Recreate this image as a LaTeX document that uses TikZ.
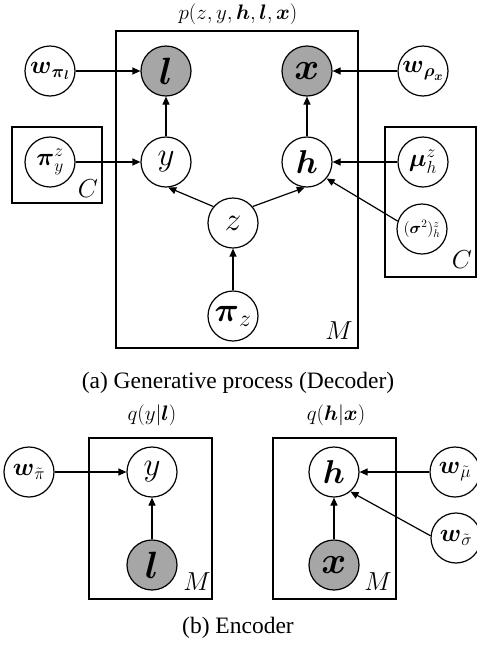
\RequirePackage{fix-cm}
\documentclass[tikz,border=0pt]{standalone}
\usepackage{amsmath}
\usepackage{fontspec}
\setmainfont{Liberation Serif}
\usetikzlibrary{arrows.meta}
\definecolor{obsgray}{RGB}{166,166,166}
\begin{document}
\begin{tikzpicture}[x=1pt,y=-1pt,
  var/.style={circle,draw,line width=1.2pt,minimum size=50pt,inner sep=0pt},
  obs/.style={var,fill=obsgray},
  plate/.style={draw,line width=1.2pt},
  conn/.style={line width=1.2pt,-{Triangle[length=8pt,width=7pt]}},
  bigtext/.style={font=\fontsize{38}{38}\selectfont},
  midtext/.style={font=\fontsize{33}{33}\selectfont},
  smalltext/.style={font=\fontsize{25}{25}\selectfont},
  labtext/.style={font=\fontsize{26}{26}\selectfont},
  captext/.style={font=\fontsize{23.5}{23.5}\selectfont},
  ttltext/.style={font=\fontsize{21}{21}\selectfont}]
\useasboundingbox (0,0) rectangle (477,654);
% ---------- decoder ----------
\node[ttltext] (ptitle) at (238,14) {$p(z,y,\boldsymbol{h},\boldsymbol{l},\boldsymbol{x})$};
\draw[plate] (116,31) rectangle (358,348);
\draw[plate] (12,127) rectangle (102,203);
\draw[plate] (385,127) rectangle (476,277);
\node[labtext] (M1) at (339,331) {$M$};
\node[labtext] (C1) at (88,189) {$C$};
\node[labtext] (C2) at (462,260) {$C$};

\node[obs,bigtext] (l) at (166,71) {$\boldsymbol{l}$};
\node[obs,bigtext] (x) at (307,71) {$\boldsymbol{x}$};
\node[var,smalltext] (wpl) at (50,71) {$\boldsymbol{w}_{\boldsymbol{\pi}_{\boldsymbol{l}}}$};
\node[var,smalltext] (wrx) at (423,71) {$\boldsymbol{w}_{\boldsymbol{\rho}_{\boldsymbol{x}}}$};
\node[var,midtext] (y) at (166,162) {$y$};
\node[var,midtext] (h) at (307,162) {$\boldsymbol{h}$};
\node[var,smalltext] (piy) at (50,162) {$\boldsymbol{\pi}_{y}^{z}$};
\node[var,smalltext] (mu) at (423,162) {$\boldsymbol{\mu}_{h}^{z}$};
\node[var,font=\fontsize{16}{16}\selectfont] (sig) at (422,229) {$(\boldsymbol{\sigma}^{2})_{h}^{z}$};
\node[var,font=\fontsize{33}{33}\selectfont] (z) at (233,223) {$z$};
\node[var,font=\fontsize{34}{34}\selectfont] (piz) at (233,316) {$\boldsymbol{\pi}_{z}$};

\draw[conn] (wpl) -- (l);
\draw[conn] (wrx) -- (x);
\draw[conn] (y) -- (l);
\draw[conn] (h) -- (x);
\draw[conn] (piy) -- (y);
\draw[conn] (mu) -- (h);
\draw[conn] (sig.162) -- (h.-40);
\draw[conn] (z.140) -- (y.-85);
\draw[conn] (z.40) -- (h.-95);
\draw[conn] (piz) -- (z);

\node[captext] (capa) at (238,383) {(a) Generative process (Decoder)};

% ---------- encoder ----------
\node[ttltext] (qtitle1) at (152,415) {$q(y|\boldsymbol{l})$};
\node[ttltext] (qtitle2) at (336,415) {$q(\boldsymbol{h}|\boldsymbol{x})$};
\draw[plate] (89,438) rectangle (212,599);
\draw[plate] (273,438) rectangle (396,599);
\node[labtext] (M2) at (197,582) {$M$};
\node[labtext] (M3) at (378,582) {$M$};

\node[var,midtext] (ey) at (152,472) {$y$};
\node[obs,bigtext] (el) at (152,565) {$\boldsymbol{l}$};
\node[var,smalltext] (wpt) at (29,472) {$\boldsymbol{w}_{\tilde{\pi}}$};
\node[var,midtext] (eh) at (334,472) {$\boldsymbol{h}$};
\node[obs,bigtext] (ex) at (334,565) {$\boldsymbol{x}$};
\node[var,smalltext] (wmu) at (455,472) {$\boldsymbol{w}_{\tilde{\mu}}$};
\node[var,smalltext] (wsg) at (456,538) {$\boldsymbol{w}_{\tilde{\sigma}}$};

\draw[conn] (wpt) -- (ey);
\draw[conn] (el) -- (ey);
\draw[conn] (wmu) -- (eh);
\draw[conn] (ex) -- (eh);
\draw[conn] (wsg.175) -- (eh.-50);

\node[captext] (capb) at (238,628) {(b) Encoder};
\end{tikzpicture}
\end{document}
